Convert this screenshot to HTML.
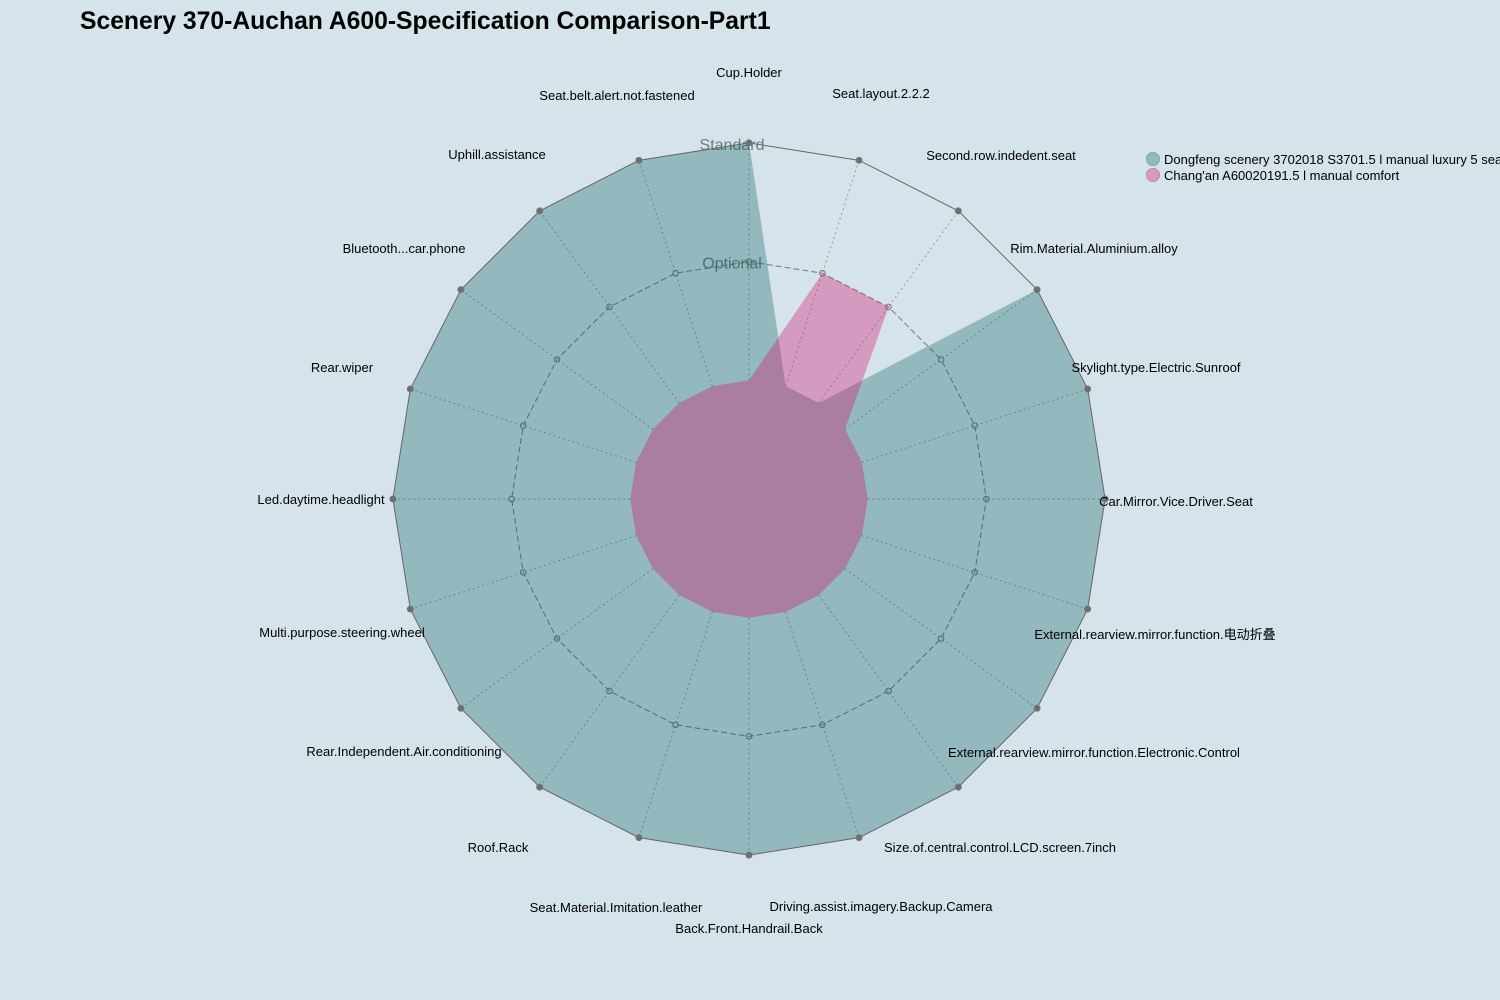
<!DOCTYPE html>
<html><head><meta charset="utf-8"><style>
body{margin:0;background:#d5e3ea;}
svg{display:block;font-family:"Liberation Sans","Noto Sans CJK SC",sans-serif;}
</style></head><body>
<svg id="chart" width="1500" height="1000">
<rect width="1500" height="1000" fill="#d5e3ea"/>
<text x="80" y="29" font-size="24.7" font-weight="bold" fill="#000">Scenery 370-Auchan A600-Specification Comparison-Part1</text>
<g id="grid"></g><g id="series"></g><g id="top"></g><g id="labels"></g>
<g>
<circle cx="1153" cy="159" r="6.5" fill="#93b9bd" stroke="#7fa6aa"/>
<text x="1164" y="164" font-size="13">Dongfeng scenery 3702018 S3701.5 l manual luxury 5 seats</text>
<circle cx="1153" cy="175" r="6.5" fill="#d49cc0" stroke="#c086ac"/>
<text x="1164" y="180" font-size="13">Chang'an A60020191.5 l manual comfort</text>
</g>
</svg>
<script>
const categories=["Cup.Holder","Seat.layout.2.2.2","Second.row.indedent.seat","Rim.Material.Aluminium.alloy","Skylight.type.Electric.Sunroof","Car.Mirror.Vice.Driver.Seat","External.rearview.mirror.function.电动折叠","External.rearview.mirror.function.Electronic.Control","Size.of.central.control.LCD.screen.7inch","Driving.assist.imagery.Backup.Camera","Back.Front.Handrail.Back","Seat.Material.Imitation.leather","Roof.Rack","Rear.Independent.Air.conditioning","Multi.purpose.steering.wheel","Led.daytime.headlight","Rear.wiper","Bluetooth...car.phone","Uphill.assistance","Seat.belt.alert.not.fastened"];
const dongfeng=[3,1,1,3,3,3,3,3,3,3,3,3,3,3,3,3,3,3,3,3];
const changan=[1,2,2,1,1,1,1,1,1,1,1,1,1,1,1,1,1,1,1,1];
const levelLabels=["None","Optional","Standard"];
const levels=[1,2,3];
const labelPos=[[749,77],[881,98],[1001,160],[1094,253],[1156,372],[1176,506],[1155,639],[1094,757],[1000,852],[881,911],[749,933],[616,912],[498,852],[404,756],[342,637],[321,504],[342,372],[404,253],[497,159],[617,100]];
const NS="http://www.w3.org/2000/svg";
const cx=749,cy=499,rUnit=118.7;
function rad(v){return v*rUnit;}
function pt(i,v){const a=i*2*Math.PI/categories.length;return [cx+rad(v)*Math.sin(a),cy-rad(v)*Math.cos(a)];}
function mk(tag,attrs,parent){const e=document.createElementNS(NS,tag);for(const k in attrs)e.setAttribute(k,attrs[k]);parent.appendChild(e);return e;}
const sg=document.getElementById('series'),gg=document.getElementById('grid'),tg=document.getElementById('top'),lg=document.getElementById('labels');
categories.forEach((c,i)=>{const [x0,y0]=pt(i,levels[0]);const [x,y]=pt(i,3);const l=mk('line',{x1:x0,y1:y0,x2:x,y2:y,stroke:'#9a9a9a','stroke-width':1,'stroke-dasharray':'2,3'},gg);

});
levels.forEach((lv,k)=>{const outer=k===levels.length-1;
if(k>0){const g=mk('polygon',{points:categories.map((c,i)=>pt(i,lv).join(',')).join(' '),fill:'none',stroke:outer?'#666':'#777','stroke-width':1,'stroke-dasharray':outer?'none':'6,3'},outer?tg:gg);


categories.forEach((c,i)=>{const [x,y]=pt(i,lv);const d=mk('circle',{cx:x,cy:y,r:outer?3:2.8,fill:outer?'#6e6e6e':'none',stroke:'#777'},outer?tg:gg);

});
const t=mk('text',{x:cx-17,y:cy-rad(lv)+7,'text-anchor':'middle','font-size':16,fill:'#6f7f80'},gg);t.textContent=levelLabels[k];

}});
const p1=mk('polygon',{points:dongfeng.map((v,i)=>pt(i,v).join(',')).join(' '),fill:'rgb(0,91,89)','fill-opacity':0.31},sg);


const p2=mk('polygon',{points:changan.map((v,i)=>pt(i,v).join(',')).join(' '),fill:'rgb(210,14,108)','fill-opacity':0.34},sg);


categories.forEach((c,i)=>{const t=mk('text',{x:labelPos[i][0],y:labelPos[i][1],'text-anchor':'middle','font-size':13,fill:'#000'},lg);t.textContent=c;

});
</script>
</body></html>
